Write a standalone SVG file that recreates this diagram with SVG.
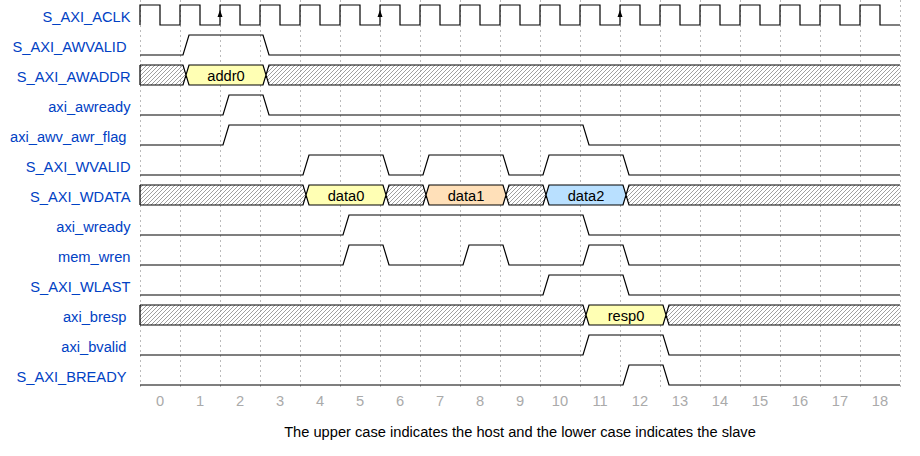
<svg xmlns="http://www.w3.org/2000/svg" width="920" height="456" viewBox="0 0 920 456">
<defs>
<pattern id="hatch" patternUnits="userSpaceOnUse" width="4" height="4">
<path d="M-1,1 L1,-1 M0,4 L4,0 M3,5 L5,3" stroke="#888" stroke-width="0.8"/>
</pattern>
</defs>
<style>
.lbl{font-family:"Liberation Sans",Arial,sans-serif;font-size:14.67px;fill:#0041c4;text-anchor:end}
.dat{font-family:"Liberation Sans",Arial,sans-serif;font-size:14.67px;fill:#000;text-anchor:middle}
.tick{font-family:"Liberation Sans",Arial,sans-serif;font-size:14.67px;fill:#aaa;text-anchor:middle}
.cap{font-family:"Liberation Sans",Arial,sans-serif;font-size:14.67px;fill:#000;text-anchor:middle}
.w{fill:none;stroke:#000;stroke-width:1.2}
.x{fill:url(#hatch);stroke:none}
.grid{stroke:#bbb;stroke-width:1;stroke-dasharray:2,3}
.y3{fill:#ffffb4}
.y4{fill:#ffe0b9}
.y5{fill:#b9e0ff}
</style>
<rect width="920" height="456" fill="#fff"/>
<g id="grid">
<path class="grid" d="M140.5,0V390M180.5,0V390M220.5,0V390M260.5,0V390M300.5,0V390M340.5,0V390M380.5,0V390M420.5,0V390M460.5,0V390M500.5,0V390M540.5,0V390M580.5,0V390M620.5,0V390M660.5,0V390M700.5,0V390M740.5,0V390M780.5,0V390M820.5,0V390M860.5,0V390M900.5,0V390"/>
</g>
<g id="S_AXI_ACLK">
<text class="lbl" x="130.5" y="21.5">S_AXI_ACLK</text>
<path class="w" d="M140,25V5H160V25H180V5H200V25H220V5H240V25H260V5H280V25H300V5H320V25H340V5H360V25H380V5H400V25H420V5H440V25H460V5H480V25H500V5H520V25H540V5H560V25H580V5H600V25H620V5H640V25H660V5H680V25H700V5H720V25H740V5H760V25H780V5H800V25H820V5H840V25H860V5H880V25H900"/>
<path d="M220,10L217.5,17H222.5Z M380,10L377.5,17H382.5Z M620,10L617.5,17H622.5Z" fill="#000"/>
</g>
<g id="S_AXI_AWVALID">
<text class="lbl" x="126.5" y="51.5">S_AXI_AWVALID</text>
<path class="w" d="M140,55H183L189,35H263L269,55H900"/>
</g>
<g id="S_AXI_AWADDR">
<text class="lbl" x="130.5" y="81.5">S_AXI_AWADDR</text>
<polygon class="x" points="140,65 183,65 186,75 183,85 140,85"/>
<polygon class="y3" points="186,75 189,65 263,65 266,75 263,85 189,85"/>
<polygon class="x" points="266,75 269,65 900,65 900,85 269,85"/>
<path class="w" d="M140,65V85M140,65H183L189,85H263L269,65H900M140,85H183L189,65H263L269,85H900"/>
<text class="dat" x="226" y="81">addr0</text>
</g>
<g id="axi_awready">
<text class="lbl" x="130.5" y="111.5">axi_awready</text>
<path class="w" d="M140,115H223L229,95H263L269,115H900"/>
</g>
<g id="axi_awv_awr_flag">
<text class="lbl" x="126.5" y="141.5">axi_awv_awr_flag</text>
<path class="w" d="M140,145H223L229,125H583L589,145H900"/>
</g>
<g id="S_AXI_WVALID">
<text class="lbl" x="130.5" y="171.5">S_AXI_WVALID</text>
<path class="w" d="M140,175H303L309,155H383L389,175H423L429,155H503L509,175H543L549,155H623L629,175H900"/>
</g>
<g id="S_AXI_WDATA">
<text class="lbl" x="130.5" y="201.5">S_AXI_WDATA</text>
<polygon class="x" points="140,185 303,185 306,195 303,205 140,205"/>
<polygon class="y3" points="306,195 309,185 383,185 386,195 383,205 309,205"/>
<polygon class="x" points="386,195 389,185 423,185 426,195 423,205 389,205"/>
<polygon class="y4" points="426,195 429,185 503,185 506,195 503,205 429,205"/>
<polygon class="x" points="506,195 509,185 543,185 546,195 543,205 509,205"/>
<polygon class="y5" points="546,195 549,185 623,185 626,195 623,205 549,205"/>
<polygon class="x" points="626,195 629,185 900,185 900,205 629,205"/>
<path class="w" d="M140,185V205M140,185H303L309,205H383L389,185H423L429,205H503L509,185H543L549,205H623L629,185H900M140,205H303L309,185H383L389,205H423L429,185H503L509,205H543L549,185H623L629,205H900"/>
<text class="dat" x="346" y="201">data0</text>
<text class="dat" x="466" y="201">data1</text>
<text class="dat" x="586" y="201">data2</text>
</g>
<g id="axi_wready">
<text class="lbl" x="130.5" y="231.5">axi_wready</text>
<path class="w" d="M140,235H343L349,215H583L589,235H900"/>
</g>
<g id="mem_wren">
<text class="lbl" x="130.5" y="261.5">mem_wren</text>
<path class="w" d="M140,265H343L349,245H383L389,265H463L469,245H503L509,265H583L589,245H623L629,265H900"/>
</g>
<g id="S_AXI_WLAST">
<text class="lbl" x="130.5" y="291.5">S_AXI_WLAST</text>
<path class="w" d="M140,295H543L549,275H623L629,295H900"/>
</g>
<g id="axi_bresp">
<text class="lbl" x="126.5" y="321.5">axi_bresp</text>
<polygon class="x" points="140,305 583,305 586,315 583,325 140,325"/>
<polygon class="y3" points="586,315 589,305 663,305 666,315 663,325 589,325"/>
<polygon class="x" points="666,315 669,305 900,305 900,325 669,325"/>
<path class="w" d="M140,305V325M140,305H583L589,325H663L669,305H900M140,325H583L589,305H663L669,325H900"/>
<text class="dat" x="626" y="321">resp0</text>
</g>
<g id="axi_bvalid">
<text class="lbl" x="126.5" y="351.5">axi_bvalid</text>
<path class="w" d="M140,355H583L589,335H663L669,355H900"/>
</g>
<g id="S_AXI_BREADY">
<text class="lbl" x="126.5" y="381.5">S_AXI_BREADY</text>
<path class="w" d="M140,385H623L629,365H663L669,385H900"/>
</g>
<g id="connectors"></g>
<g id="ticks">
<text class="tick" x="160" y="406">0</text>
<text class="tick" x="200" y="406">1</text>
<text class="tick" x="240" y="406">2</text>
<text class="tick" x="280" y="406">3</text>
<text class="tick" x="320" y="406">4</text>
<text class="tick" x="360" y="406">5</text>
<text class="tick" x="400" y="406">6</text>
<text class="tick" x="440" y="406">7</text>
<text class="tick" x="480" y="406">8</text>
<text class="tick" x="520" y="406">9</text>
<text class="tick" x="560" y="406">10</text>
<text class="tick" x="600" y="406">11</text>
<text class="tick" x="640" y="406">12</text>
<text class="tick" x="680" y="406">13</text>
<text class="tick" x="720" y="406">14</text>
<text class="tick" x="760" y="406">15</text>
<text class="tick" x="800" y="406">16</text>
<text class="tick" x="840" y="406">17</text>
<text class="tick" x="880" y="406">18</text>
</g>
<g id="caption">
<text class="cap" x="520" y="437">The upper case indicates the host and the lower case indicates the slave</text>
</g>
</svg>
